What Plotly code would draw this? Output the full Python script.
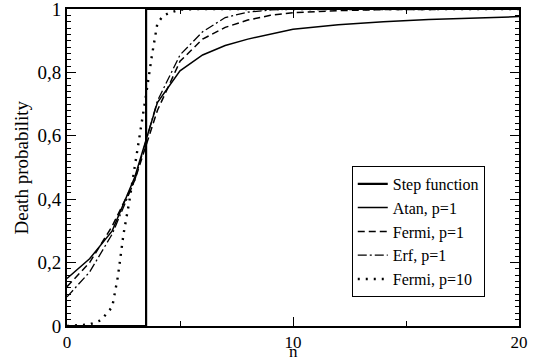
import plotly.graph_objects as go

# ---- data ----
step_n = [0, 3.5, 3.5, 20]
step_p = [0, 0, 1, 1]

atan_n = [0, 1, 2, 3, 4, 5, 6, 7, 8, 10, 12, 14, 16, 18, 20]
atan_p = [0.150, 0.212, 0.30, 0.47, 0.705, 0.805, 0.855, 0.885, 0.905, 0.936, 0.950, 0.960, 0.967, 0.972, 0.976]

fermi1_n = [0, 1, 2, 3, 4, 5, 6, 7, 8, 9, 10, 12, 14, 20]
fermi1_p = [0.124, 0.20, 0.315, 0.46, 0.68, 0.835, 0.905, 0.942, 0.965, 0.98, 0.988, 0.995, 0.998, 1.0]

erf_n = [0, 1, 2, 3, 4, 5, 6, 7, 8, 9, 10, 20]
erf_p = [0.092, 0.17, 0.29, 0.46, 0.71, 0.855, 0.928, 0.973, 0.99, 0.997, 1.0, 1.0]

fermi10_n = [0, 1, 1.5, 2, 2.25, 2.5, 2.75, 3, 3.25, 3.5, 3.75, 4, 4.25, 4.5, 5, 6, 8, 20]
fermi10_p = [0, 0.005, 0.018, 0.06, 0.155, 0.29, 0.39, 0.50, 0.62, 0.73, 0.85, 0.955, 0.978, 0.987, 0.998, 1, 1, 1]

y_tickvals = [0, 0.2, 0.4, 0.6, 0.8, 1]
y_ticktext = ["0", "0,2", "0,4", "0,6", "0,8", "1"]
x_tickvals = [0, 10, 20]
x_ticktext = ["0", "10", "20"]

FONT = "Times New Roman, Liberation Serif, DejaVu Serif, serif"

fig = go.Figure()
fig.add_trace(go.Scatter(x=step_n, y=step_p, mode="lines", name="Step function",
                         line=dict(color="black", width=2.2)))
fig.add_trace(go.Scatter(x=atan_n, y=atan_p, mode="lines", name="Atan, p=1",
                         line=dict(color="black", width=1.5)))
fig.add_trace(go.Scatter(x=fermi1_n, y=fermi1_p, mode="lines", name="Fermi, p=1",
                         line=dict(color="black", width=1.5, dash="7px,4px")))
fig.add_trace(go.Scatter(x=erf_n, y=erf_p, mode="lines", name="Erf, p=1",
                         line=dict(color="black", width=1.3, dash="9px,3px,2px,3px")))
fig.add_trace(go.Scatter(x=fermi10_n, y=fermi10_p, mode="lines", name="Fermi, p=10",
                         line=dict(color="black", width=2.4, dash="2px,6px")))

fig.update_layout(
    width=536, height=362,
    margin=dict(l=67, r=17, t=9, b=36),
    paper_bgcolor="white", plot_bgcolor="white",
    font=dict(family=FONT, size=19, color="black"),
    showlegend=True,
    legend=dict(x=0.63, y=0.505, xanchor="left", yanchor="top",
                bordercolor="black", borderwidth=1, bgcolor="white",
                font=dict(family=FONT, size=16), tracegroupgap=0,
                itemwidth=30),
    xaxis=dict(range=[0, 20], tickvals=x_tickvals, ticktext=x_ticktext,
               ticks="inside", ticklen=9, tickwidth=1, tickcolor="black",
               showline=True, linecolor="black", linewidth=1.8, mirror="ticks",
               showgrid=False, zeroline=False, automargin=False,
               tickfont=dict(size=17), ticklabeloverflow="allow",
               minor=dict(tickvals=[5, 15], ticks="inside", ticklen=5, tickcolor="black")),
    yaxis=dict(range=[0, 1], tickvals=y_tickvals, ticktext=y_ticktext,
               ticks="inside", ticklen=9, tickwidth=1, tickcolor="black",
               showline=True, linecolor="black", linewidth=1.8, mirror="ticks",
               showgrid=False, zeroline=False, automargin=False,
               tickfont=dict(size=19), ticklabeloverflow="allow",
               minor=dict(dtick=0.02, ticks="inside", ticklen=4, tickcolor="black")),
    annotations=[
        dict(text="Death probability", xref="paper", yref="paper",
             x=-0.0996, y=0.5, xanchor="center", yanchor="middle",
             textangle=-90, showarrow=False, font=dict(family=FONT, size=19)),
        dict(text="n", xref="paper", yref="paper",
             x=0.5, y=-0.1136, xanchor="center", yanchor="bottom", borderpad=0,
             showarrow=False, font=dict(family=FONT, size=17)),
    ],
)

fig.write_html("out.html", config={"displayModeBar": False},
               post_script="document.body.style.margin='0';")
